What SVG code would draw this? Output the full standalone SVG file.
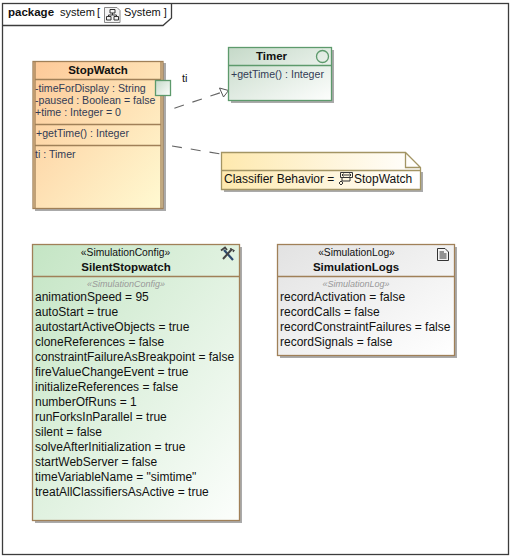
<svg xmlns="http://www.w3.org/2000/svg" width="515" height="560" viewBox="0 0 515 560">
<style>
text{font-family:"Liberation Sans",Arial,sans-serif;font-size:12px;fill:#111}
.b{font-weight:bold;text-anchor:middle;font-size:11.5px}
.c{text-anchor:middle;font-size:10.3px}
.s{text-anchor:middle;font-size:9px;font-style:italic;fill:#999}
.m{fill:#333c55;font-size:10.6px}
.sh{fill:#aaa}
.o{stroke:#a08058;stroke-width:1.3}
.g{stroke:#5d9a6c;stroke-width:1.3}
.d{fill:none;stroke:#666;stroke-width:1.1;stroke-dasharray:10 9}
.i{fill:none;stroke:#333;stroke-width:1}
</style>
<defs>
<linearGradient id="gO" x1="0" y1="0" x2="1" y2="1"><stop offset="0" stop-color="#fdc998"/><stop offset="1" stop-color="#fffad2"/></linearGradient>
<linearGradient id="gT" x1="0" y1="0" x2="1" y2="1"><stop offset="0" stop-color="#c5d9c8"/><stop offset="1" stop-color="#fdfefd"/></linearGradient>
<linearGradient id="gC" x1="0" y1="0" x2="1" y2="1"><stop offset="0" stop-color="#c4e5c4"/><stop offset="1" stop-color="#fcfefc"/></linearGradient>
<linearGradient id="gL" x1="0" y1="0" x2="1" y2="1"><stop offset="0" stop-color="#e2e2e2"/><stop offset="1" stop-color="#ffffff"/></linearGradient>
<linearGradient id="gN" x1="0" y1="0" x2="1" y2="0"><stop offset="0" stop-color="#fee9ae"/><stop offset="1" stop-color="#ffffff"/></linearGradient>
</defs>
<g id="frame">
<rect x="2.5" y="3.5" width="506" height="551" fill="#fff" stroke="#3c3c3c" stroke-width="1.3"/>
<path d="M2.5 25.5H163L171.500 18V3.500" fill="none" stroke="#3c3c3c" stroke-width="1.3"/>
<text x="8" y="16" style="font-weight:bold;font-size:11.5px">package</text>
<text x="60" y="16" style="font-size:11px">system</text>
<text x="97" y="16" style="font-size:11px">[</text>
<path d="M104.500 7.500H117L120 10.500V22.500H104.500Z" fill="#f4f4f4" stroke="#888"/>
<path class="i" d="M110 9.500H115V13H110ZM106.500 16.500H111V20H106.500ZM114 16.500H118.500V20H114ZM112.500 13V15H108.500V16.500M112.500 15H116.500V16.500"/>
<text x="124" y="16" style="font-size:11px">System ]</text>
</g>
<g id="connectors">
<path class="d" d="M163 112L221 92.500" stroke-dashoffset="7"/>
<path d="M219.500 88L228.500 90.500L223.500 97Z" fill="#fff" stroke="#555" stroke-width="1"/>
<path class="d" d="M172 146L221 154"/>
<text x="182" y="82" style="font-size:11px">ti</text>
</g>
<g id="StopWatch">
<rect class="sh" x="35" y="63" width="131" height="148"/>
<rect x="33" y="61.500" width="130" height="147" fill="url(#gO)" class="o"/>
<path class="o" d="M35 61.500V208.500M161 61.500V208.500M35 79.500H161M35 124.500H161M35 145.500H161"/>
<text class="b" x="98" y="74">StopWatch</text>
<text class="m" x="35" y="92">-timeForDisplay : String</text>
<text class="m" x="35" y="104">-paused : Boolean = false</text>
<text class="m" x="35" y="116">+time : Integer = 0</text>
<text class="m" x="36" y="137">+getTime() : Integer</text>
<text class="m" x="35" y="158">ti : Timer</text>
<rect x="155.500" y="80.500" width="15" height="15" fill="url(#gT)" class="g"/>
</g>
<g id="Timer">
<rect class="sh" x="231" y="50" width="103" height="53"/>
<rect x="228.500" y="47.500" width="103" height="53" fill="url(#gT)" class="g"/>
<path class="g" d="M228.500 65.500H331.500"/>
<circle cx="322.500" cy="56.500" r="6" fill="none" class="g"/>
<text class="b" x="271.500" y="60">Timer</text>
<text class="m" x="231" y="78">+getTime() : Integer</text>
</g>
<g id="Note">
<path class="sh" d="M224 172H423V192H224Z"/>
<path d="M221.500 152.500H405.500L420.500 167.500V189.500H221.500Z" fill="url(#gN)"/>
<path d="M221.500 170.500H420.500M405.500 152.500V167.500H420.500M221.500 152.500H405.500L420.500 167.500V189.500H221.500Z" fill="none" stroke="#a39564" stroke-width="1.300"/>
<text x="224" y="183">Classifier Behavior =</text>
<path class="i" d="M340.500 172.500H352.500V177.500H340.500ZM342 175H351M349.500 173.500L351 175L349.500 176.500M343.500 173.500L342 175L343.500 176.500M342 177.500V181H350V177.500"/>
<path d="M341 181L343 183L341 185L339 183Z" fill="none" stroke="#333" stroke-width="1"/>
<text x="354" y="183">StopWatch</text>
</g>
<g id="SilentStopwatch">
<rect class="sh" x="35" y="247" width="207" height="276"/>
<rect x="32.500" y="244.500" width="207" height="276" fill="url(#gC)" class="o"/>
<path class="o" d="M32.500 276.500H239.500"/>
<text class="c" x="125.500" y="256">«SimulationConfig»</text>
<text class="b" x="126" y="271">SilentStopwatch</text>
<path d="M224 250L233 260" stroke="#2d4a6e" stroke-width="2.200" fill="none"/>
<path d="M232 249L223 259" stroke="#444" stroke-width="2" fill="none"/>
<path d="M221 250.500L225 247.500L227 250" stroke="#444" stroke-width="1.800" fill="none"/>
<path d="M230 248.500L234 250.500L233 252" stroke="#444" stroke-width="1.300" fill="none"/>
<text class="s" x="126" y="287">«SimulationConfig»</text>
<text x="35" y="301">animationSpeed = 95</text>
<text x="35" y="316">autoStart = true</text>
<text x="35" y="331">autostartActiveObjects = true</text>
<text x="35" y="346">cloneReferences = false</text>
<text x="35" y="361">constraintFailureAsBreakpoint = false</text>
<text x="35" y="376">fireValueChangeEvent = true</text>
<text x="35" y="391">initializeReferences = false</text>
<text x="35" y="406">numberOfRuns = 1</text>
<text x="35" y="421">runForksInParallel = true</text>
<text x="35" y="436">silent = false</text>
<text x="35" y="451">solveAfterInitialization = true</text>
<text x="35" y="466">startWebServer = false</text>
<text x="35" y="481">timeVariableName = "simtime"</text>
<text x="35" y="496">treatAllClassifiersAsActive = true</text>
</g>
<g id="SimulationLogs">
<rect class="sh" x="280" y="247" width="177" height="111"/>
<rect x="277.500" y="244.500" width="177" height="111" fill="url(#gL)" class="o"/>
<path class="o" d="M277.500 276.500H454.500"/>
<text class="c" x="356.500" y="256">«SimulationLog»</text>
<text class="b" x="356" y="271">SimulationLogs</text>
<path d="M437.500 248.500H445L448.500 252V260.500H437.500Z" fill="#f4f4f4" stroke="#333"/>
<path d="M439.500 252H444M439.500 254H446.500M439.500 256H446.500M439.500 258H446.500" stroke="#333" stroke-width="1"/>
<text class="s" x="356" y="287">«SimulationLog»</text>
<text x="280" y="301">recordActivation = false</text>
<text x="280" y="316">recordCalls = false</text>
<text x="280" y="331">recordConstraintFailures = false</text>
<text x="280" y="346">recordSignals = false</text>
</g>
</svg>
